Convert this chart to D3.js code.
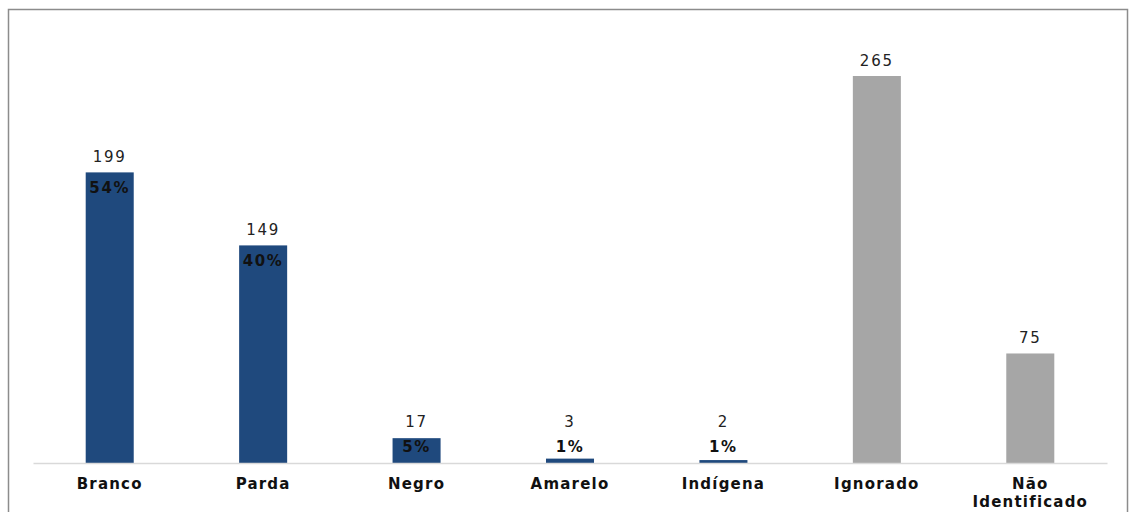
<!DOCTYPE html>
<html>
<head>
<meta charset="utf-8">
<script src="https://cdn.jsdelivr.net/npm/d3@7"></script>
<style>
  html, body { margin: 0; padding: 0; background: #ffffff; }
  svg { display: block; }
</style>
</head>
<body>
<svg id="chart" width="1132" height="512"></svg>
<script>
// Categories, counts and share labels
const categories = ["Branco", "Parda", "Negro", "Amarelo", "Indígena", "Ignorado", "Não Identificado"];
const counts = [199, 149, 17, 3, 2, 265, 75];
const shareLabels = ["54%", "40%", "5%", "1%", "1%", null, null];
const barColors = ["#1f497d", "#1f497d", "#1f497d", "#1f497d", "#1f497d", "#a6a6a6", "#a6a6a6"];

const svg = d3.select("#chart");

// Outer frame of the chart area
svg.append("rect")
  .attr("x", 8.5).attr("y", 9.5)
  .attr("width", 1119).attr("height", 520)
  .attr("fill", "none")
  .attr("stroke", "#8c8c8c")
  .attr("stroke-width", 1.5);

const x = d3.scaleBand()
  .domain(categories)
  .range([33, 1107])
  .paddingInner(0.687)
  .paddingOuter(0.3435);

const y = d3.scaleLinear()
  .domain([0, 265])
  .range([463, 76]);

const rows = categories.map((c, i) => ({ cat: c, v: counts[i], pct: shareLabels[i], color: barColors[i] }));

// Bars
svg.append("g").selectAll("rect")
  .data(rows)
  .join("rect")
  .attr("x", d => x(d.cat))
  .attr("y", d => y(d.v))
  .attr("width", x.bandwidth())
  .attr("height", d => y(0) - y(d.v))
  .attr("fill", d => d.color);

// Baseline axis
const axis = d3.axisBottom(x).tickSize(0).tickFormat("");
const axisG = svg.append("g")
  .attr("transform", `translate(0,${y(0)})`)
  .call(axis);
axisG.select(".domain").attr("stroke", "#d9d9d9").attr("stroke-width", 1.5);

// Category labels (wrapped to two lines where needed)
const catG = svg.append("g")
  .attr("font-family", "DejaVu Sans, sans-serif")
  .attr("font-weight", "bold")
  .attr("font-size", "15px")
  .attr("letter-spacing", "1.2px")
  .attr("fill", "#111")
  .attr("text-anchor", "middle");

rows.forEach(d => {
  const words = d.cat.split(" ");
  const lines = words.length > 1 ? words : [d.cat];
  const t = catG.append("text")
    .attr("x", x(d.cat) + x.bandwidth() / 2)
    .attr("y", 489);
  lines.forEach((w, i) => {
    t.append("tspan")
      .attr("x", x(d.cat) + x.bandwidth() / 2)
      .attr("dy", i === 0 ? 0 : 18)
      .text(w);
  });
});

// Count labels above each bar
svg.append("g")
  .attr("font-family", "DejaVu Sans, sans-serif")
  .attr("font-size", "15px")
  .attr("letter-spacing", "1.8px")
  .attr("fill", "#222")
  .attr("text-anchor", "middle")
  .selectAll("text")
  .data(rows)
  .join("text")
  .attr("x", d => x(d.cat) + x.bandwidth() / 2)
  .attr("y", d => Math.min(y(d.v) - 10, 427))
  .text(d => d.v);

// Share labels inside the bars
svg.append("g")
  .attr("font-family", "DejaVu Sans, sans-serif")
  .attr("font-weight", "bold")
  .attr("font-size", "15px")
  .attr("letter-spacing", "1.6px")
  .attr("fill", "#111")
  .attr("text-anchor", "middle")
  .selectAll("text")
  .data(rows.filter(d => d.pct))
  .join("text")
  .attr("x", d => x(d.cat) + x.bandwidth() / 2)
  .attr("y", d => Math.min(y(d.v) + 21, 452))
  .text(d => d.pct);
</script>
</body>
</html>
